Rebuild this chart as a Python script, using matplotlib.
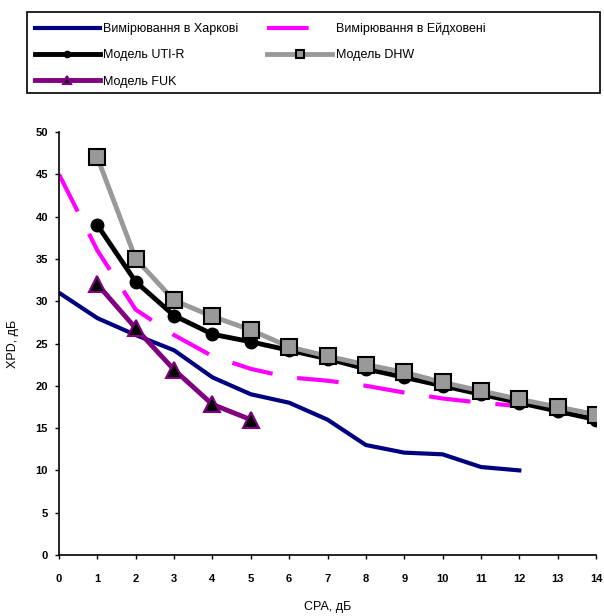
import matplotlib
matplotlib.use("Agg")
import matplotlib.pyplot as plt
from matplotlib.patches import Rectangle

plt.rcParams['font.family'] = ['Liberation Sans', 'DejaVu Sans']

cpa_kharkiv = [0, 1, 2, 3, 4, 5, 6, 7, 8, 9, 10, 11, 12]
xpd_kharkiv = [31, 28, 26, 24.2, 21, 19, 18, 16, 13, 12.1, 11.9, 10.4, 10]

cpa_eind = [0, 1, 2, 3, 4, 5, 6, 7, 8, 9, 10, 11, 12]
xpd_eind = [45, 36, 29, 26, 23.5, 22, 21, 20.6, 20, 19.2, 18.5, 18, 17.6]

cpa_uti = [1, 2, 3, 4, 5, 6, 7, 8, 9, 10, 11, 12, 13, 14]
xpd_uti = [39, 32.3, 28.3, 26.1, 25.2, 24.2, 23.2, 22, 21, 20, 19, 18, 17, 16]

cpa_dhw = [1, 2, 3, 4, 5, 6, 7, 8, 9, 10, 11, 12, 13, 14]
xpd_dhw = [47, 35, 30.1, 28.2, 26.6, 24.6, 23.5, 22.5, 21.6, 20.4, 19.4, 18.4, 17.5, 16.6]

cpa_fuk = [1, 2, 3, 4, 5]
xpd_fuk = [32, 26.8, 21.9, 17.8, 16]

fig = plt.figure(figsize=(6.04, 6.16), dpi=100)
ax = fig.add_axes([59 / 604, 1 - 555 / 616, (596 - 59) / 604, (555 - 132) / 616])

l1, = ax.plot(cpa_kharkiv, xpd_kharkiv, color='#000080', lw=3, label='Вимірювання в Харкові')
l2, = ax.plot(cpa_eind, xpd_eind, color='#ff00ff', lw=3, dashes=(10, 6), label='Вимірювання в Ейдховені')
l3, = ax.plot(cpa_uti, xpd_uti, color='black', lw=3.5, marker='o', ms=9, label='Модель UTI-R')
l4, = ax.plot(cpa_dhw, xpd_dhw, color='#999999', lw=3.5, marker='s', ms=11,
              mfc='#999999', mec='black', mew=1.5, label='Модель DHW')
l5, = ax.plot(cpa_fuk, xpd_fuk, color='#800080', lw=3.5, marker='^', ms=11,
              mfc='black', mec='#800080', mew=1.5, label='Модель FUK')

ax.set_xlim(0, 14)
ax.set_ylim(0, 50)
ax.set_xticks(range(0, 15))
ax.set_yticks(range(0, 51, 5))
for s in ['top', 'right']:
    ax.spines[s].set_visible(False)
ax.spines['left'].set_linewidth(1.2)
ax.spines['bottom'].set_linewidth(1.2)
ax.tick_params(axis='both', labelsize=8, direction='out', length=3, width=1)
ax.tick_params(axis='x', pad=11)
ax.tick_params(axis='y', pad=5)
for lab in ax.get_xticklabels() + ax.get_yticklabels():
    lab.set_fontweight('bold')
ax.set_xlabel('CPA, дБ', fontsize=9, labelpad=12)
ax.set_ylabel('XPD, дБ', fontsize=9, labelpad=12)

# legend frame drawn separately so it can be wider than the entries
fig.patches.append(Rectangle((27 / 604, 1 - 93 / 616), (600 - 27) / 604, (93 - 12) / 616,
                             transform=fig.transFigure, fill=False, edgecolor='black', lw=1.2))
fig.legend(handles=[l1, l3, l5, l2, l4], loc='upper left',
           bbox_to_anchor=(22 / 604, 1 - 10 / 616), ncol=2, fontsize=9,
           frameon=False, handlelength=5.2,
           columnspacing=2.3, handletextpad=0.3, borderpad=0.5, labelspacing=1.15,
           markerscale=0.5, numpoints=1)

fig.savefig('out.png', dpi=100)
